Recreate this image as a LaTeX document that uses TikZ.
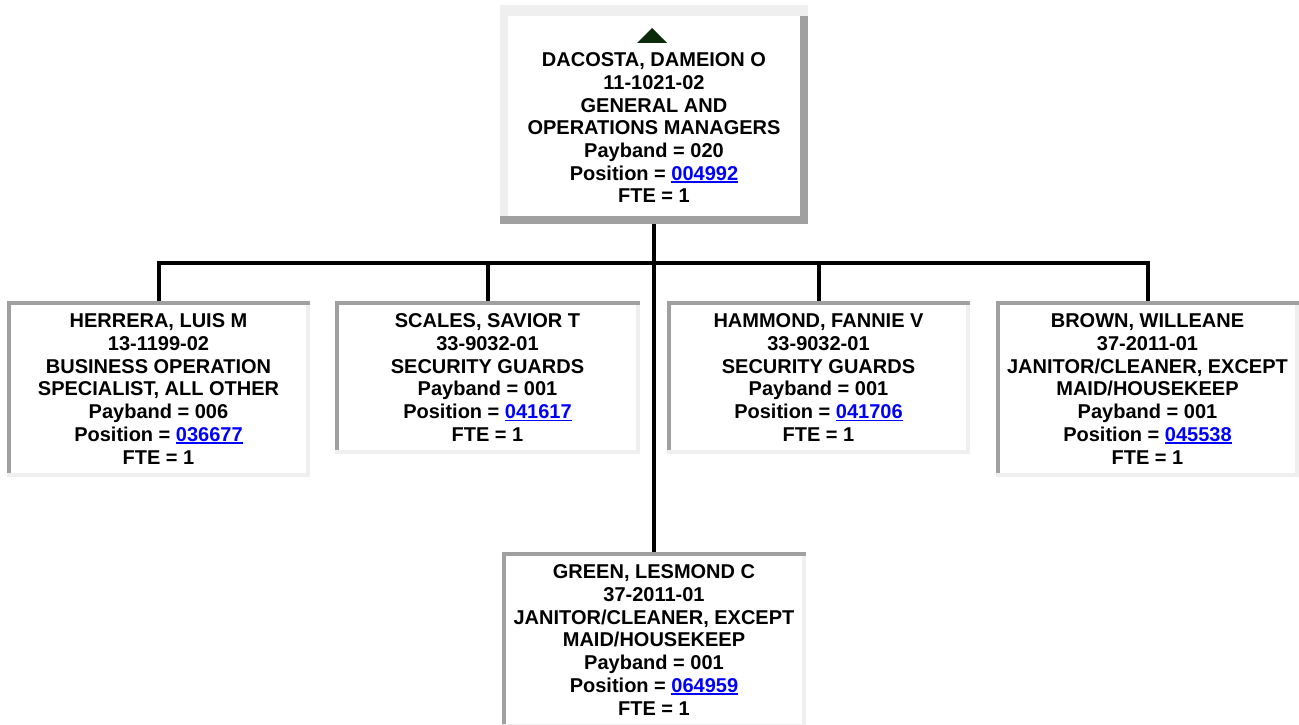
\documentclass[tikz,border=0pt]{standalone}
\usepackage{fontspec}
\setmainfont{Liberation Sans}
\definecolor{dg}{RGB}{160,160,160}
\definecolor{lg}{RGB}{239,239,239}
\definecolor{lnk}{RGB}{0,0,255}
\definecolor{tri}{RGB}{10,42,10}
\newcommand\plink[1]{\textcolor{lnk}{\setbox0\hbox{#1}\rlap{\rule[-2.6pt]{\wd0}{1.6pt}}\box0}}
\begin{document}
\begin{tikzpicture}[x=1pt,y=-1pt,
  box/.style 2 args={rectangle, inner sep=0pt, minimum width=#1, minimum height=#2,
    fill=white, align=center, font=\fontsize{20}{22.7}\selectfont\bfseries},
  inset/.style={path picture={
    \fill[dg] (path picture bounding box.north west) rectangle ([yshift=-4pt]path picture bounding box.north east);
    \fill[dg] (path picture bounding box.north west) rectangle ([xshift=4pt,yshift=4pt]path picture bounding box.south west);
    \fill[lg] ([yshift=-4pt,xshift=-4pt]path picture bounding box.north east) rectangle (path picture bounding box.south east);
    \fill[lg] (path picture bounding box.south west) rectangle ([yshift=4pt]path picture bounding box.south east);
  }},
  outset/.style={path picture={
    \fill[lg] (path picture bounding box.north west) rectangle ([yshift=-11pt]path picture bounding box.north east);
    \fill[lg] (path picture bounding box.north west) rectangle ([xshift=8pt,yshift=8pt]path picture bounding box.south west);
    \fill[dg] ([yshift=-11pt,xshift=-8pt]path picture bounding box.north east) rectangle (path picture bounding box.south east);
    \fill[dg] (path picture bounding box.south west) rectangle ([yshift=8pt]path picture bounding box.south east);
  }},
  conn/.style={line width=4pt, black, line join=miter}]
\useasboundingbox (0,0) rectangle (1299,725);
\clip (0,0) rectangle (1299,725);
\fill[white] (0,0) rectangle (1299,725);

\node[box={308pt}{219pt}, outset] (top) at (654,114.5)
  {{}\\[18pt]DACOSTA, DAMEION O\\11-1021-02\\GENERAL AND\\OPERATIONS MANAGERS\\Payband = 020\\Position = \plink{004992}\\FTE = 1};
\fill[tri] (637,43) -- (652,28) -- (667,43) -- cycle;

\node[box={303pt}{176pt}, inset] (herrera) at (158.5,389)
  {HERRERA, LUIS M\\13-1199-02\\BUSINESS OPERATION\\SPECIALIST, ALL OTHER\\Payband = 006\\Position = \plink{036677}\\FTE = 1};
\node[box={305pt}{153pt}, inset] (scales) at (487.5,377.5)
  {SCALES, SAVIOR T\\33-9032-01\\SECURITY GUARDS\\Payband = 001\\Position = \plink{041617}\\FTE = 1};
\node[box={303pt}{153pt}, inset] (hammond) at (818.5,377.5)
  {HAMMOND, FANNIE V\\33-9032-01\\SECURITY GUARDS\\Payband = 001\\Position = \plink{041706}\\FTE = 1};
\node[box={303pt}{176pt}, inset] (brown) at (1147.5,389)
  {BROWN, WILLEANE\\37-2011-01\\JANITOR/CLEANER, EXCEPT\\MAID/HOUSEKEEP\\Payband = 001\\Position = \plink{045538}\\FTE = 1};
\node[box={304pt}{176pt}, inset] (green) at (654,640)
  {GREEN, LESMOND C\\37-2011-01\\JANITOR/CLEANER, EXCEPT\\MAID/HOUSEKEEP\\Payband = 001\\Position = \plink{064959}\\FTE = 1};

\coordinate (bar) at (654,263);
\draw[conn] (top.south) -- (green.north);
\draw[conn] (herrera.north) |- (bar) -| (brown.north);
\draw[conn] (scales.north) -- (scales.north |- bar);
\draw[conn] (hammond.north) -- (hammond.north |- bar);
\end{tikzpicture}
\end{document}
